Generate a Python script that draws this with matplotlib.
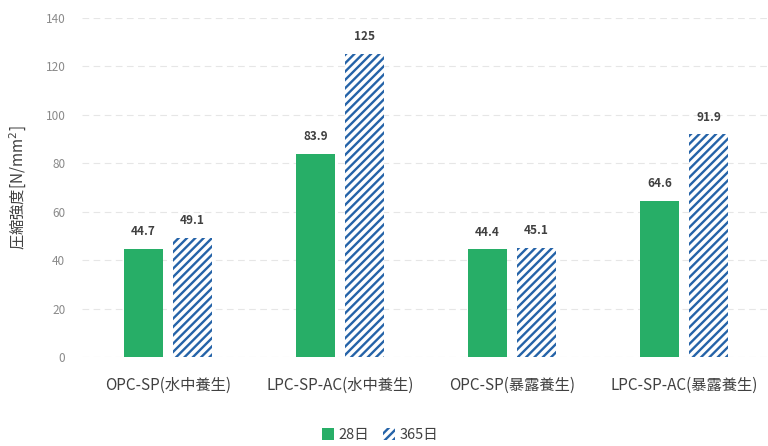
import matplotlib
matplotlib.use("Agg")
import matplotlib.pyplot as plt
import numpy as np

plt.rcParams['font.family'] = ['Noto Sans CJK JP', 'DejaVu Sans']
plt.rcParams['hatch.linewidth'] = 1.7

categories = ["OPC-SP(水中養生)", "LPC-SP-AC(水中養生)", "OPC-SP(暴露養生)", "LPC-SP-AC(暴露養生)"]
series_names = ["28日", "365日"]
vals_28 = [44.7, 83.9, 44.4, 64.6]
vals_365 = [49.1, 125, 45.1, 91.9]
labels_365 = ["49.1", "125", "45.1", "91.9"]
labels_28 = ["44.7", "83.9", "44.4", "64.6"]
yticks = [0, 20, 40, 60, 80, 100, 120, 140]

green = "#27ae67"
blue = "#2563a8"

fig = plt.figure(figsize=(7.68, 4.46), dpi=100)
ax = fig.add_axes([82/768, 89/446, 688/768, 339/446])

x = np.arange(len(categories))
w = 0.227
off = 0.143
b1 = ax.bar(x - off, vals_28, w, color=green, label=series_names[0], zorder=3)
b2 = ax.bar(x + off, vals_365, w, facecolor="white", edgecolor=blue, hatch="////",
            linewidth=0, label=series_names[1], zorder=3)

for rect, t in zip(b1, labels_28):
    ax.text(rect.get_x() + rect.get_width()/2, rect.get_height() + 4.5, t,
            ha="center", va="bottom", fontsize=8.5, color="#404040", fontweight="bold")
for rect, t in zip(b2, labels_365):
    ax.text(rect.get_x() + rect.get_width()/2, rect.get_height() + 4.5, t,
            ha="center", va="bottom", fontsize=8.5, color="#404040", fontweight="bold")

ax.set_xlim(-0.5, 3.5)
ax.set_ylim(0, 140)
ax.set_yticks(yticks)
ax.set_yticklabels([str(v) for v in yticks], fontsize=8.5, color="#8a8a8a")
ax.set_xticks(x)
ax.set_xticklabels(categories, fontsize=11, color="#404040")
ax.tick_params(axis="y", length=0, pad=12)
ax.tick_params(axis="x", length=0, pad=14)
ax.yaxis.grid(True, color="#e6e6e6", linewidth=0.8, linestyle=(0, (6, 4)), zorder=0)
for s in ax.spines.values():
    s.set_visible(False)
ax.set_ylabel("圧縮強度[N/mm$^2$]", fontsize=11, color="#404040", labelpad=12)

leg = fig.legend(handles=[b1, b2], labels=series_names, loc="center",
                 bbox_to_anchor=(380/768, 1 - 435/446), ncol=2, frameon=False,
                 fontsize=10.5, handlelength=0.8, handleheight=0.8, columnspacing=1.0,
                 handletextpad=0.3)
for t in leg.get_texts():
    t.set_color("#404040")

fig.savefig("out.png", dpi=100)
